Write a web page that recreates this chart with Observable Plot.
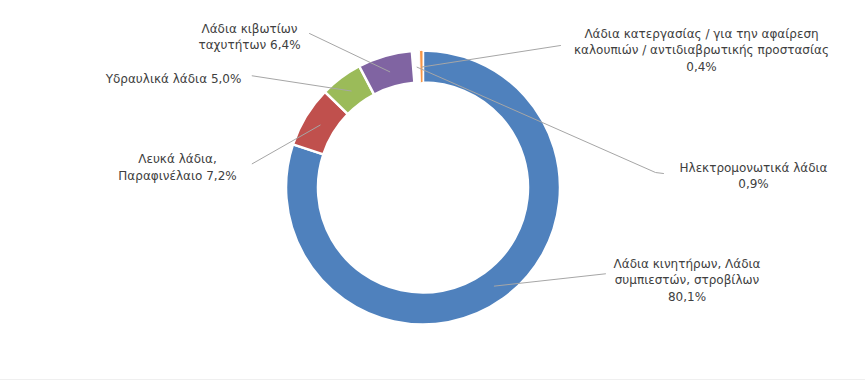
<!DOCTYPE html>
<html>
<head>
<meta charset="utf-8">
<script src="https://cdn.jsdelivr.net/npm/d3@7"></script>
<script src="https://cdn.jsdelivr.net/npm/@observablehq/plot@0.6"></script>
<style>
  html, body { margin: 0; padding: 0; background: #fff; }
  #chart svg { display: block; }
</style>
</head>
<body>
<div id="chart"></div>
<script>
// ---- data ----
const categories = [
  "Λάδια κινητήρων, Λάδια συμπιεστών, στροβίλων",
  "Λευκά λάδια, Παραφινέλαιο",
  "Υδραυλικά λάδια",
  "Λάδια κιβωτίων ταχυτήτων",
  "Ηλεκτρομονωτικά λάδια",
  "Λάδια κατεργασίας / για την αφαίρεση καλουπιών / αντιδιαβρωτικής προστασίας"
];
const shares = [80.1, 7.2, 5.0, 6.4, 0.9, 0.4];
const valueLabels = ["80,1%", "7,2%", "5,0%", "6,4%", "0,9%", "0,4%"];
const labelTexts = [
  "Λάδια κινητήρων, Λάδια\nσυμπιεστών, στροβίλων\n80,1%",
  "Λευκά λάδια,\nΠαραφινέλαιο 7,2%",
  "Υδραυλικά λάδια 5,0%",
  "Λάδια κιβωτίων\nταχυτήτων 6,4%",
  "Ηλεκτρομονωτικά λάδια\n0,9%",
  "Λάδια κατεργασίας / για την αφαίρεση\nκαλουπιών / αντιδιαβρωτικής προστασίας\n0,4%"
];
const sliceColors = ["#4f81bd", "#c0504d", "#9bbb59", "#8064a2", "#ffffff", "#f79646"];

// ---- layout (pixels) ----
const W = 865, H = 380;
const CX = 423, CY = 187.5, R_OUT = 137, R_IN = 105;
// label block centres and leader-line end points
const labelX = [686.5, 177, 173, 249, 753, 701];
const labelY = [278.3, 165.8, 77.5, 35, 174.2, 48.3];
const leaderEndX = [[605], [251.7], [251.7], [309], [655, 663], [560]];
const leaderEndY = [[273.3], [163.3], [75.3], [33], [172, 173], [45]];

const data = categories.map((name, i) => ({
  name, value: shares[i], label: labelTexts[i], color: sliceColors[i],
  lx: labelX[i], ly: labelY[i]
}));

const pie = d3.pie().value(d => d.value).sort(null).startAngle(0).endAngle(2 * Math.PI);
const arcs = pie(data);
const arc = d3.arc().innerRadius(R_IN).outerRadius(R_OUT);
const midArc = d3.arc().innerRadius((R_IN + R_OUT) / 2).outerRadius((R_IN + R_OUT) / 2);

// leader lines: start at slice centroid, then to label
const leaders = [];
arcs.forEach((a, i) => {
  const [mx, my] = midArc.centroid(a);
  leaders.push({id: i, x: CX + mx, y: CY + my});
  leaderEndX[i].forEach((x, k) => leaders.push({id: i, x, y: leaderEndY[i][k]}));
});

function donut(index, scales) {
  const sx = scales && scales.x ? scales.x : (v => v);
  const sy = scales && scales.y ? scales.y : (v => v);
  const g = d3.create("svg:g").attr("transform", `translate(${sx(CX)},${sy(CY)})`);
  g.selectAll("path").data(arcs).join("path")
    .attr("d", arc)
    .attr("fill", d => d.data.color)
    .attr("stroke", "#ffffff")
    .attr("stroke-width", d => d.data.value < 1 ? 1 : 2.5)
    .attr("stroke-linejoin", "round");
  return g.node();
}

const chart = Plot.plot({
  width: W,
  height: H,
  margin: 0,
  style: {fontFamily: "'DejaVu Sans', sans-serif", background: "#fff"},
  x: {domain: [0, W], range: [0, W], axis: null},
  y: {domain: [0, H - 1], range: [0, H - 1], axis: null},
  marks: [
    donut,
    Plot.line(leaders, {x: "x", y: "y", z: "id", stroke: "#a6a6a6", strokeWidth: 1}),
    Plot.text(data, {
      x: "lx", y: "ly", text: "label",
      textAnchor: "middle", lineAnchor: "middle",
      fontSize: 12, lineHeight: 1.38, fill: "#404040"
    }),
    Plot.frame({anchor: "bottom", stroke: "#bfbfbf", strokeWidth: 1.5})
  ]
});
document.getElementById("chart").appendChild(chart);
</script>
</body>
</html>
